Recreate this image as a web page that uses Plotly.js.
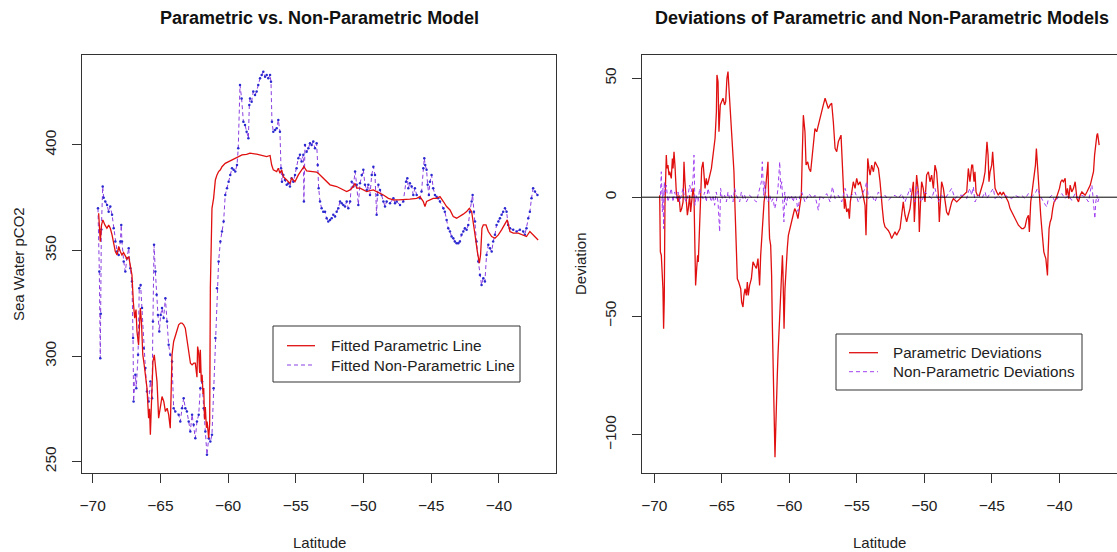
<!DOCTYPE html>
<html>
<head>
<meta charset="utf-8">
<script src="https://cdn.plot.ly/plotly-3.0.1.min.js"></script>
<style>html,body{margin:0;padding:0;background:#fff;}#chart{width:1117px;height:552px;}</style>
</head>
<body>
<div id="chart"></div>
<script>
// ---- Left panel: fitted parametric line ----
const latParam = [-69.56,-69.50,-69.44,-69.35,-69.25,-69.10,-68.95,-68.82,-68.70,-68.57,-68.45,-68.33,-68.20,-68.08,-67.96,-67.84,-67.72,-67.59,-67.47,-67.34,-67.22,-67.10,-67.00,-66.90,-66.80,-66.73,-66.61,-66.55,-66.48,-66.40,-66.30,-66.20,-66.11,-65.99,-65.87,-65.80,-65.74,-65.62,-65.55,-65.45,-65.37,-65.25,-65.13,-65.00,-64.88,-64.75,-64.63,-64.50,-64.39,-64.27,-64.20,-64.14,-64.02,-63.90,-63.78,-63.65,-63.52,-63.40,-63.28,-63.16,-63.04,-62.91,-62.78,-62.66,-62.54,-62.42,-62.30,-62.25,-62.17,-62.10,-62.05,-61.98,-61.92,-61.85,-61.80,-61.74,-61.68,-61.60,-61.55,-61.43,-61.36,-61.31,-61.25,-61.19,-61.07,-60.94,-60.82,-60.70,-60.57,-60.45,-60.21,-59.96,-59.71,-59.47,-59.22,-58.97,-58.63,-58.38,-57.89,-57.40,-57.15,-56.90,-56.78,-56.66,-56.41,-56.29,-56.17,-56.04,-55.92,-55.67,-55.43,-55.31,-55.06,-54.81,-54.57,-54.40,-54.20,-53.83,-53.46,-53.34,-53.09,-52.72,-52.47,-51.98,-51.73,-51.49,-51.24,-50.99,-50.75,-50.62,-50.50,-50.26,-50.01,-49.76,-49.52,-49.27,-49.03,-48.78,-48.53,-48.16,-47.79,-47.42,-47.06,-46.57,-46.07,-45.83,-45.58,-45.46,-45.34,-45.09,-44.85,-44.60,-44.35,-44.10,-43.86,-43.61,-43.37,-43.12,-42.88,-42.63,-42.38,-42.18,-42.01,-41.89,-41.76,-41.59,-41.44,-41.35,-41.25,-41.15,-40.95,-40.78,-40.53,-40.29,-40.04,-39.80,-39.55,-39.38,-39.18,-38.94,-38.57,-38.20,-37.96,-37.71,-37.47,-37.22,-37.10];
const fitParam = [367.6,356.0,354.2,362.0,364.5,362.1,360.5,362.0,360.5,357.4,352.7,349.5,347.9,351.9,349.5,347.9,349.0,347.1,346.0,347.1,341.6,338.4,325.8,317.9,322.0,311.6,305.3,318.0,322.7,316.4,300.6,296.0,291.1,284.8,270.6,275.0,262.7,284.8,297.4,300.6,295.8,287.9,270.6,276.9,280.8,278.5,273.7,275.3,272.2,265.8,285.0,300.6,306.9,310.0,312.0,314.8,315.6,315.6,314.8,313.2,308.5,303.7,296.6,295.8,296.6,296.6,290.0,304.5,301.4,292.0,303.0,288.0,291.1,282.0,284.8,270.0,275.8,266.0,269.0,261.1,268.0,332.1,358.0,370.0,374.7,383.4,385.8,387.4,388.2,389.7,391.3,392.1,392.6,393.7,394.5,395.3,395.5,396.1,395.6,394.8,394.5,395.0,390.5,388.2,387.4,389.0,386.6,388.2,385.0,383.4,381.8,384.2,382.6,385.8,388.2,389.7,387.7,387.4,387.1,386.6,385.0,383.0,381.1,380.3,379.5,378.7,377.9,378.7,380.3,381.8,379.5,379.5,378.7,377.9,378.3,378.7,377.9,377.1,376.3,374.7,374.0,374.0,374.0,374.3,374.7,375.5,373.2,370.8,373.2,374.0,374.7,374.7,375.5,373.2,370.8,369.2,366.1,365.3,366.1,367.2,368.4,370.0,368.4,363.7,357.4,349.5,344.0,348.0,360.5,362.1,362.1,359.0,356.6,355.8,357.4,359.8,362.9,364.5,359.0,358.2,358.2,357.4,356.6,359.0,357.4,355.8,355.0];

// ---- Left panel: fitted non-parametric line ----
const latNonParam = [-69.61,-69.51,-69.44,-69.40,-69.36,-69.26,-69.19,-69.07,-68.94,-68.82,-68.70,-68.57,-68.45,-68.33,-68.20,-68.08,-67.96,-67.89,-67.84,-67.71,-67.59,-67.47,-67.34,-67.22,-67.10,-67.02,-66.98,-66.85,-66.78,-66.65,-66.56,-66.46,-66.36,-66.24,-66.11,-65.99,-65.87,-65.74,-65.62,-65.55,-65.47,-65.37,-65.28,-65.18,-65.08,-64.98,-64.88,-64.76,-64.63,-64.51,-64.39,-64.27,-64.14,-64.02,-63.90,-63.65,-63.53,-63.40,-63.28,-63.16,-63.04,-62.91,-62.79,-62.66,-62.54,-62.42,-62.30,-62.17,-62.05,-61.92,-61.80,-61.68,-61.56,-61.43,-61.31,-61.19,-61.07,-60.94,-60.82,-60.70,-60.57,-60.45,-60.33,-60.21,-60.08,-59.96,-59.84,-59.71,-59.59,-59.47,-59.34,-59.25,-59.12,-59.00,-58.87,-58.75,-58.63,-58.50,-58.43,-58.38,-58.26,-58.14,-58.01,-57.89,-57.77,-57.64,-57.52,-57.40,-57.27,-57.15,-57.03,-56.90,-56.83,-56.76,-56.66,-56.53,-56.41,-56.29,-56.17,-56.09,-56.02,-55.92,-55.80,-55.67,-55.55,-55.43,-55.31,-55.18,-55.06,-54.94,-54.81,-54.69,-54.57,-54.44,-54.40,-54.32,-54.20,-54.07,-53.95,-53.83,-53.71,-53.58,-53.46,-53.38,-53.31,-53.21,-53.09,-52.97,-52.84,-52.72,-52.60,-52.47,-52.35,-52.23,-52.10,-51.98,-51.86,-51.73,-51.61,-51.49,-51.36,-51.24,-51.12,-50.99,-50.87,-50.75,-50.62,-50.50,-50.38,-50.26,-50.13,-50.01,-49.89,-49.76,-49.64,-49.52,-49.39,-49.27,-49.15,-49.03,-48.97,-48.90,-48.78,-48.66,-48.53,-48.41,-48.29,-48.04,-47.79,-47.67,-47.55,-47.30,-47.06,-46.86,-46.76,-46.69,-46.57,-46.44,-46.32,-46.20,-46.07,-45.83,-45.71,-45.58,-45.51,-45.44,-45.34,-45.26,-45.17,-45.09,-44.97,-44.85,-44.72,-44.60,-44.48,-44.35,-44.10,-43.99,-43.86,-43.74,-43.61,-43.49,-43.37,-43.25,-43.12,-43.00,-42.88,-42.76,-42.63,-42.51,-42.38,-42.26,-42.14,-42.01,-41.94,-41.84,-41.76,-41.65,-41.52,-41.40,-41.28,-41.15,-41.03,-40.91,-40.78,-40.66,-40.53,-40.42,-40.29,-40.17,-40.04,-39.92,-39.80,-39.68,-39.55,-39.43,-39.31,-39.18,-38.94,-38.69,-38.45,-38.20,-38.08,-37.96,-37.83,-37.71,-37.59,-37.47,-37.34,-37.15];
const fitNonParam = [370.0,340.0,299.0,320.0,360.0,380.3,375.0,373.2,371.6,368.4,370.8,366.9,360.5,354.2,349.5,347.9,354.2,362.1,354.2,344.8,340.0,346.3,351.1,341.6,335.3,308.5,278.5,291.1,284.8,300.6,332.1,333.7,322.7,303.7,294.3,283.2,278.5,287.9,280.0,316.4,352.7,340.0,329.0,319.5,311.6,319.5,322.7,318.0,327.4,316.4,305.3,300.6,297.4,275.3,273.7,272.2,269.0,275.3,280.0,275.3,273.7,269.0,264.3,272.2,267.5,261.1,269.0,272.2,284.8,287.9,275.3,264.3,253.2,261.1,259.5,262.7,284.8,308.5,332.1,344.8,354.2,359.0,363.7,376.3,379.5,382.6,385.8,389.0,388.2,387.4,390.5,398.4,428.4,422.0,411.0,409.5,406.3,403.2,418.9,422.0,420.5,425.3,423.7,425.3,428.4,431.6,433.1,434.7,432.3,433.1,431.6,433.1,429.9,411.0,406.3,407.1,407.9,411.8,406.3,389.0,382.6,385.8,383.4,381.1,381.8,380.3,384.2,382.6,385.8,389.0,393.7,395.3,392.1,395.3,373.2,400.0,396.8,398.4,400.8,400.0,401.6,398.4,400.8,390.5,379.5,373.2,370.0,368.4,368.4,365.3,363.7,364.5,365.3,366.9,366.1,368.4,370.0,373.2,372.4,371.6,370.8,373.2,370.0,373.2,382.6,380.3,387.4,381.1,371.6,381.8,385.8,388.2,381.1,378.7,381.1,376.3,385.8,389.7,385.8,366.9,376.3,381.1,378.7,376.3,373.2,370.8,373.2,372.4,374.7,372.4,373.2,371.6,373.2,382.6,384.2,379.5,381.8,380.3,376.3,379.5,376.3,374.7,377.9,389.0,393.7,390.5,388.2,381.1,376.3,382.6,385.8,379.5,376.3,375.5,374.7,373.2,370.0,368.4,364.5,360.5,359.0,356.6,355.8,354.2,353.4,353.4,354.2,357.4,359.0,360.5,359.8,362.1,368.4,373.2,376.3,368.4,363.7,354.2,344.8,338.4,333.7,336.9,335.3,347.9,352.7,351.1,349.5,354.2,357.4,362.1,363.7,365.3,366.9,368.4,370.0,368.4,362.1,360.5,359.8,359.0,359.8,359.0,357.4,360.5,365.3,368.4,374.7,379.5,377.9,376.3];

// ---- Right panel: parametric deviations ----
const latDevParam = [-69.60,-69.55,-69.48,-69.36,-69.31,-69.26,-69.21,-69.16,-69.11,-69.06,-68.99,-68.91,-68.86,-68.74,-68.66,-68.61,-68.54,-68.47,-68.42,-68.37,-68.24,-68.17,-68.07,-67.97,-67.87,-67.80,-67.73,-67.63,-67.55,-67.48,-67.38,-67.31,-67.23,-67.13,-67.06,-66.99,-66.94,-66.86,-66.79,-66.74,-66.64,-66.57,-66.49,-66.39,-66.32,-66.24,-66.15,-66.07,-66.00,-65.90,-65.77,-65.65,-65.58,-65.50,-65.40,-65.36,-65.28,-65.21,-65.11,-65.01,-64.91,-64.79,-64.71,-64.62,-64.54,-64.47,-64.37,-64.27,-64.17,-64.10,-64.02,-63.97,-63.92,-63.85,-63.75,-63.68,-63.60,-63.53,-63.43,-63.36,-63.28,-63.18,-63.11,-63.04,-62.94,-62.81,-62.69,-62.57,-62.44,-62.32,-62.24,-62.20,-62.12,-62.02,-61.94,-61.87,-61.80,-61.70,-61.58,-61.50,-61.46,-61.38,-61.31,-61.26,-61.21,-61.14,-61.06,-61.01,-60.96,-60.89,-60.84,-60.76,-60.71,-60.64,-60.56,-60.51,-60.47,-60.39,-60.32,-60.27,-60.22,-60.15,-60.07,-59.97,-59.85,-59.72,-59.60,-59.48,-59.36,-59.23,-59.11,-59.04,-58.96,-58.84,-58.76,-58.64,-58.54,-58.42,-58.30,-58.22,-58.10,-57.97,-57.85,-57.72,-57.60,-57.48,-57.35,-57.23,-57.11,-56.98,-56.86,-56.74,-56.61,-56.49,-56.37,-56.17,-56.07,-55.99,-55.92,-55.87,-55.75,-55.63,-55.55,-55.48,-55.38,-55.26,-55.13,-55.01,-54.89,-54.76,-54.64,-54.52,-54.39,-54.32,-54.24,-54.19,-54.10,-54.02,-53.90,-53.77,-53.65,-53.53,-53.40,-53.28,-53.21,-53.11,-53.01,-52.91,-52.79,-52.67,-52.54,-52.42,-52.30,-52.17,-52.05,-51.93,-51.80,-51.68,-51.56,-51.43,-51.31,-51.19,-51.06,-50.94,-50.81,-50.74,-50.64,-50.57,-50.44,-50.37,-50.27,-50.20,-50.08,-49.95,-49.83,-49.70,-49.58,-49.46,-49.33,-49.21,-49.09,-48.96,-48.89,-48.79,-48.72,-48.59,-48.47,-48.35,-48.22,-48.10,-47.97,-47.85,-47.60,-47.36,-47.11,-46.86,-46.74,-46.62,-46.49,-46.42,-46.32,-46.25,-46.17,-46.07,-45.92,-45.75,-45.63,-45.50,-45.43,-45.36,-45.28,-45.21,-45.13,-45.01,-44.94,-44.86,-44.76,-44.64,-44.52,-44.39,-44.27,-44.15,-44.02,-43.90,-43.78,-43.65,-43.53,-43.40,-43.28,-43.16,-43.03,-42.91,-42.79,-42.66,-42.54,-42.41,-42.29,-42.22,-42.12,-42.02,-41.92,-41.85,-41.77,-41.70,-41.62,-41.55,-41.48,-41.38,-41.30,-41.23,-41.15,-41.08,-41.00,-40.93,-40.88,-40.83,-40.76,-40.68,-40.59,-40.49,-40.39,-40.24,-40.14,-39.99,-39.89,-39.80,-39.70,-39.57,-39.50,-39.40,-39.30,-39.20,-39.08,-38.95,-38.83,-38.70,-38.58,-38.46,-38.33,-38.21,-38.09,-37.96,-37.84,-37.71,-37.59,-37.47,-37.39,-37.32,-37.27,-37.22,-37.17,-37.10,-37.05];
const devParam = [0.8,-23.0,-24.4,-38.5,-55.3,-42.7,-3.4,14.9,17.7,12.1,13.5,9.3,10.7,7.9,16.3,12.1,19.1,13.5,5.1,2.2,-2.0,0.8,-6.2,-4.8,-2.0,14.9,6.5,-2.0,-7.6,-4.8,0.8,-6.2,-2.0,3.7,0.8,-17.4,-37.1,-30.0,-24.4,-27.2,-10.4,-6.2,12.1,14.9,9.3,3.7,7.9,5.1,6.5,9.3,12.1,17.7,20.5,24.7,35.9,51.4,48.6,27.5,38.8,40.2,41.6,38.8,40.2,50.0,52.8,45.8,35.9,30.3,20.5,10.7,-4.8,-16.0,-24.4,-34.3,-35.7,-37.1,-38.5,-44.1,-46.2,-41.3,-38.5,-41.3,-35.7,-41.3,-37.1,-34.3,-27.2,-28.6,-30.0,-25.8,-35.7,-37.1,-24.4,-16.0,-4.8,-2.0,0.8,6.5,14.9,-10.4,-17.4,-20.2,-32.9,-52.5,-66.6,-94.6,-109.4,-98.8,-91.8,-75.0,-66.6,-55.3,-46.9,-37.1,-27.2,-24.4,-31.5,-55.3,-38.5,-31.5,-24.4,-21.6,-16.0,-13.2,-10.4,-7.6,-4.8,-6.2,-9.0,-4.8,0.8,17.7,34.5,27.5,13.5,14.9,12.1,10.7,17.7,24.7,28.9,27.5,30.3,34.5,37.3,38.8,41.6,38.8,37.3,38.8,39.5,31.7,20.5,19.1,23.3,26.1,13.5,3.7,-4.8,-0.6,-6.2,-4.8,-9.0,-2.0,2.2,6.5,3.7,7.9,5.1,6.5,3.7,0.8,-3.4,-16.0,9.3,16.3,12.1,9.3,13.5,10.7,14.9,13.5,12.1,6.5,0.8,-4.8,-10.4,-12.5,-13.2,-14.0,-15.4,-17.4,-16.0,-14.6,-16.0,-14.6,-13.2,-7.6,-2.0,-7.6,-10.4,-7.6,-4.8,0.8,6.5,-10.4,0.8,9.3,2.2,-14.6,-0.6,6.5,3.7,-2.0,9.3,10.7,6.5,9.3,3.7,13.5,10.7,0.8,-10.4,2.2,6.5,3.7,-0.6,-6.2,-7.6,-4.8,-2.0,-0.6,-2.0,-0.6,0.8,2.2,12.1,6.5,13.5,13.5,6.5,10.7,2.2,0.8,0.8,3.7,6.5,10.7,17.7,23.3,17.7,6.5,10.7,13.5,19.1,9.3,3.7,2.2,0.8,2.2,0.8,2.2,0.8,-0.6,-2.0,-4.8,-6.2,-7.6,-9.0,-10.4,-11.8,-12.5,-13.2,-13.2,-12.5,-9.0,-7.6,-14.6,-2.0,2.2,6.5,9.3,13.5,20.5,12.1,5.1,-2.0,-7.6,-13.2,-20.2,-23.0,-24.4,-25.8,-30.0,-32.9,-23.0,-13.2,-10.4,-9.0,-4.8,-2.0,-0.6,0.8,3.7,6.5,7.2,6.5,7.9,0.8,3.7,-0.6,5.1,2.2,3.7,6.5,-0.6,-2.0,0.8,2.2,1.5,0.8,2.2,3.7,5.1,7.9,10.7,17.7,21.9,24.7,26.1,26.8,23.3,21.9];

// ---- Right panel: non-parametric deviations ----
const latDevNonParam = [-69.55,-69.48,-69.40,-69.36,-69.31,-69.26,-69.21,-69.11,-68.99,-68.86,-68.74,-68.61,-68.49,-68.37,-68.24,-68.12,-68.00,-67.87,-67.75,-67.63,-67.50,-67.38,-67.26,-67.13,-67.06,-66.99,-66.89,-66.76,-66.64,-66.52,-66.39,-66.27,-66.15,-66.02,-65.90,-65.78,-65.65,-65.53,-65.41,-65.28,-65.16,-65.09,-64.96,-64.79,-64.66,-64.54,-64.42,-64.29,-64.17,-64.05,-63.92,-63.68,-63.55,-63.43,-63.31,-63.18,-62.94,-62.69,-62.44,-62.32,-62.20,-62.07,-62.00,-61.90,-61.82,-61.70,-61.58,-61.45,-61.33,-61.21,-61.08,-60.96,-60.84,-60.76,-60.71,-60.64,-60.56,-60.40,-60.34,-60.22,-60.10,-59.97,-59.85,-59.72,-59.60,-59.48,-59.36,-59.23,-59.08,-58.84,-58.54,-58.29,-58.10,-57.85,-57.72,-57.48,-57.23,-56.98,-56.81,-56.61,-56.37,-56.12,-55.87,-55.63,-55.38,-55.13,-54.89,-54.64,-54.39,-54.27,-54.14,-53.90,-53.65,-53.40,-53.16,-52.91,-52.67,-52.42,-52.17,-51.93,-51.68,-51.43,-51.19,-51.06,-50.94,-50.69,-50.57,-50.44,-50.20,-49.95,-49.70,-49.46,-49.21,-48.96,-48.72,-48.47,-48.22,-47.98,-47.73,-47.48,-47.11,-46.86,-46.74,-46.62,-46.49,-46.37,-46.25,-46.00,-45.75,-45.50,-45.38,-45.13,-44.89,-44.76,-44.52,-44.27,-44.02,-43.78,-43.53,-43.28,-43.03,-42.79,-42.54,-42.29,-42.05,-41.80,-41.62,-41.43,-41.18,-40.93,-40.81,-40.56,-40.31,-40.07,-39.82,-39.57,-39.33,-39.08,-38.83,-38.58,-38.34,-38.09,-37.84,-37.67,-37.59,-37.52,-37.44,-37.37,-37.30,-37.22,-37.15,-37.07];
const devNonParam = [0.8,10.7,-6.2,3.7,-13.2,6.5,2.2,5.1,-2.0,0.8,3.7,-2.0,2.2,-0.6,2.2,-2.0,0.8,3.7,-0.6,-2.0,0.8,5.1,2.2,7.9,17.7,-3.4,0.8,-2.0,3.7,0.8,-0.6,2.2,-2.0,3.7,0.8,-2.0,0.8,-3.4,2.2,-2.0,-14.6,3.7,-0.6,0.8,-2.0,2.2,-0.6,0.8,-2.0,3.7,0.8,-2.0,2.2,-0.6,0.8,-2.0,0.8,-0.6,-2.0,0.8,3.7,6.5,14.9,0.8,6.5,-0.6,-2.0,0.8,-2.0,-0.6,-4.8,-2.0,3.7,13.5,14.9,3.7,6.5,-10.4,2.2,-3.4,0.8,-0.6,0.8,-2.0,0.8,-0.6,-6.0,0.1,2.2,-2.0,1.5,-0.6,0.8,-5.5,0.8,-0.6,1.5,-2.0,4.4,-0.6,0.8,-2.0,3.7,-0.6,0.8,2.2,-2.0,0.8,3.7,6.5,-0.6,0.8,-2.0,2.2,-0.6,0.8,-1.3,0.1,0.8,-0.6,1.5,-2.0,2.2,3.7,-0.6,-2.0,4.4,0.8,-2.0,2.2,0.8,-0.6,3.7,-2.0,0.8,-0.6,1.5,3.7,-0.6,0.8,0.8,-0.6,2.2,3.7,0.8,4.4,-2.0,0.8,-0.6,2.2,-0.6,1.5,3.7,-0.6,0.8,-0.6,0.8,0.1,-0.6,0.8,0.1,0.8,-0.6,1.5,0.1,1.5,3.7,0.8,-2.0,-4.1,-0.6,0.8,-2.0,0.1,1.5,-0.6,0.8,-1.3,1.5,-0.6,0.8,0.1,-2.0,3.7,5.1,0.8,-6.2,-9.0,-2.0,0.8,-2.0,-0.6];

// ---- Axis ticks ----
const latTicks = [-70,-65,-60,-55,-50,-45,-40];
const pco2Ticks = [250,300,350,400];
const devTicks = [-100,-50,0,50];

const W = 1117, H = 552;
const FONT = 'Liberation Sans, Arial, Helvetica, sans-serif';
const px = v => v / W;
const py = v => 1 - v / H;

const traces = [
  {x: latNonParam, y: fitNonParam, xaxis: 'x', yaxis: 'y', type: 'scatter', mode: 'lines+markers',
   line: {color: '#8a3fe0', width: 1, dash: '4px,3px'}, marker: {color: '#2a2ad0', size: 2.5}, hoverinfo: 'skip'},
  {x: latParam, y: fitParam, xaxis: 'x', yaxis: 'y', type: 'scatter', mode: 'lines',
   line: {color: '#e01010', width: 1.3}, hoverinfo: 'skip'},
  {x: latDevParam, y: devParam, xaxis: 'x2', yaxis: 'y2', type: 'scatter', mode: 'lines',
   line: {color: '#e01010', width: 1.3}, hoverinfo: 'skip'},
  {x: latDevNonParam, y: devNonParam, xaxis: 'x2', yaxis: 'y2', type: 'scatter', mode: 'lines',
   line: {color: '#a040f0', width: 1, dash: '4px,3px'}, hoverinfo: 'skip'}
];

const axBase = {
  showgrid: false, zeroline: false, showline: true, mirror: true, linecolor: '#333', linewidth: 1,
  ticks: 'outside', ticklen: 9, tickwidth: 1, tickcolor: '#333',
  tickfont: {family: FONT, size: 15.5, color: '#222'}, fixedrange: true
};

const layout = {
  width: W, height: H, margin: {l: 0, r: 0, t: 0, b: 0},
  paper_bgcolor: '#fff', plot_bgcolor: '#fff', showlegend: false,
  font: {family: FONT, color: '#000'},
  xaxis: Object.assign({}, axBase, {domain: [px(82), px(556)], range: [-70.79, -35.78], tickvals: latTicks, anchor: 'y', ticklabelstandoff: 9}),
  yaxis: Object.assign({}, axBase, {domain: [1 - 473 / H, 1 - 55 / H], range: [244.6, 442.6], tickvals: pco2Ticks, tickangle: -90, anchor: 'x', ticklabelstandoff: 10}),
  xaxis2: Object.assign({}, axBase, {domain: [px(642), 1], range: [-70.91, -35.73], tickvals: latTicks, anchor: 'y2', ticklabelstandoff: 9}),
  yaxis2: Object.assign({}, axBase, {domain: [1 - 473 / H, 1 - 55 / H], range: [-116, 59.8], tickvals: devTicks, tickangle: -90, anchor: 'x2', ticklabelstandoff: 10}),
  shapes: [
    {type: 'line', xref: 'x2 domain', yref: 'y2', x0: 0, x1: 1, y0: 0, y1: 0, line: {color: '#000', width: 1}},
    {type: 'rect', xref: 'paper', yref: 'paper', x0: px(273), x1: px(520), y0: py(382), y1: py(326), line: {color: '#333', width: 1}, fillcolor: '#fff'},
    {type: 'line', xref: 'paper', yref: 'paper', x0: px(287), x1: px(315), y0: py(345.7), y1: py(345.7), line: {color: '#e01010', width: 1.3}},
    {type: 'line', xref: 'paper', yref: 'paper', x0: px(287), x1: px(315), y0: py(365), y1: py(365), line: {color: '#8a3fe0', width: 1, dash: '4px,3px'}},
    {type: 'rect', xref: 'paper', yref: 'paper', x0: px(836), x1: px(1082), y0: py(390), y1: py(334), line: {color: '#333', width: 1}, fillcolor: '#fff'},
    {type: 'line', xref: 'paper', yref: 'paper', x0: px(849), x1: px(878), y0: py(352.7), y1: py(352.7), line: {color: '#e01010', width: 1.3}},
    {type: 'line', xref: 'paper', yref: 'paper', x0: px(849), x1: px(878), y0: py(371.7), y1: py(371.7), line: {color: '#a040f0', width: 1, dash: '4px,3px'}}
  ],
  annotations: [
    {text: '<b>Parametric vs. Non-Parametric Model</b>', xref: 'paper', yref: 'paper', x: px(319), y: py(18), xanchor: 'center', yanchor: 'middle', showarrow: false, font: {family: FONT, size: 18, color: '#111'}},
    {text: '<b>Deviations of Parametric and Non-Parametric Models</b>', xref: 'paper', yref: 'paper', x: px(882), y: py(18), xanchor: 'center', yanchor: 'middle', showarrow: false, font: {family: FONT, size: 18, color: '#111'}},
    {text: 'Latitude', xref: 'paper', yref: 'paper', x: px(319), y: py(542), xanchor: 'center', yanchor: 'middle', showarrow: false, font: {family: FONT, size: 15, color: '#222'}},
    {text: 'Latitude', xref: 'paper', yref: 'paper', x: px(879), y: py(542), xanchor: 'center', yanchor: 'middle', showarrow: false, font: {family: FONT, size: 15, color: '#222'}},
    {text: 'Sea Water pCO2', xref: 'paper', yref: 'paper', x: px(18), y: py(264), xanchor: 'center', yanchor: 'middle', textangle: -90, showarrow: false, font: {family: FONT, size: 15, color: '#222'}},
    {text: 'Deviation', xref: 'paper', yref: 'paper', x: px(580), y: py(264), xanchor: 'center', yanchor: 'middle', textangle: -90, showarrow: false, font: {family: FONT, size: 15, color: '#222'}},
    {text: 'Fitted Parametric Line', xref: 'paper', yref: 'paper', x: px(329), y: py(345.7), xanchor: 'left', yanchor: 'middle', showarrow: false, font: {family: FONT, size: 15.4, color: '#222'}},
    {text: 'Fitted Non-Parametric Line', xref: 'paper', yref: 'paper', x: px(329), y: py(365), xanchor: 'left', yanchor: 'middle', showarrow: false, font: {family: FONT, size: 15.4, color: '#222'}},
    {text: 'Parametric Deviations', xref: 'paper', yref: 'paper', x: px(891), y: py(352.7), xanchor: 'left', yanchor: 'middle', showarrow: false, font: {family: FONT, size: 15.2, color: '#222'}},
    {text: 'Non-Parametric Deviations', xref: 'paper', yref: 'paper', x: px(891), y: py(371.7), xanchor: 'left', yanchor: 'middle', showarrow: false, font: {family: FONT, size: 15.2, color: '#222'}}
  ]
};

Plotly.newPlot('chart', traces, layout, {displayModeBar: false, staticPlot: true});
</script>
</body>
</html>
